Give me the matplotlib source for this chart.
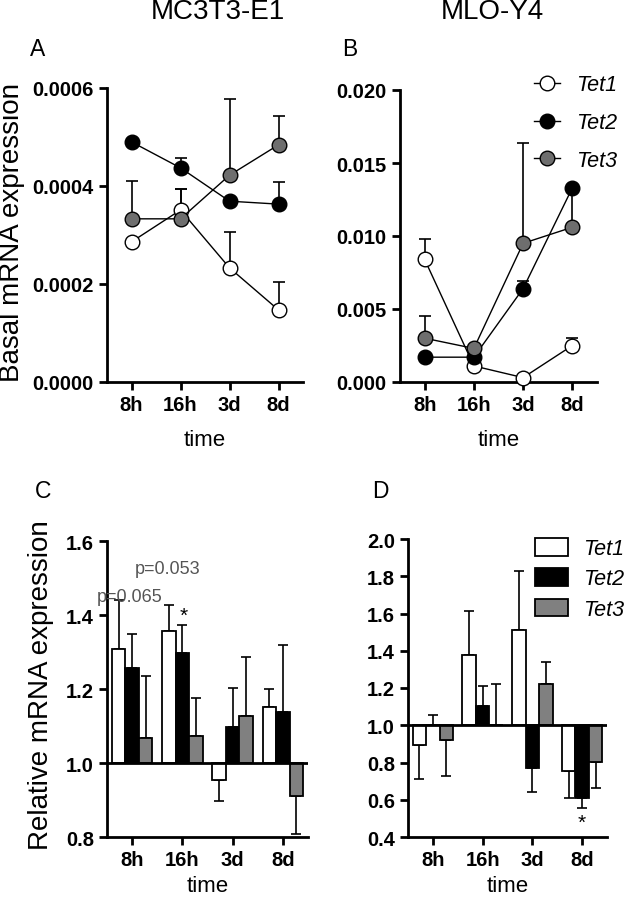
import matplotlib
matplotlib.use("Agg")
import matplotlib.pyplot as plt
import numpy as np
from matplotlib.lines import Line2D
from matplotlib.patches import Patch

plt.rcParams['font.family'] = ['Liberation Sans', 'DejaVu Sans']

times = ["8h", "16h", "3d", "8d"]
genes = ["Tet1", "Tet2", "Tet3"]

# Panel A (MC3T3-E1 basal)
a_tet1 = [0.000286, 0.000351, 0.000233, 0.000147]
a_tet1_err = [0.0, 0.000043, 0.000073, 0.000057]
a_tet2 = [0.000490, 0.000437, 0.000369, 0.000363]
a_tet2_err = [0.0, 0.000020, 0.0, 0.000045]
a_tet3 = [0.000333, 0.000333, 0.000422, 0.000484]
a_tet3_err = [0.000077, 0.000061, 0.000156, 0.000059]

# Panel B (MLO-Y4 basal)
b_tet1 = [0.0084, 0.0011, 0.0003, 0.0025]
b_tet1_err = [0.0014, 0.0, 0.0, 0.0005]
b_tet2 = [0.0017, 0.0017, 0.0064, 0.0133]
b_tet2_err = [0.0, 0.0, 0.0005, 0.0]
b_tet3 = [0.0030, 0.0023, 0.0095, 0.0106]
b_tet3_err = [0.0015, 0.0, 0.0069, 0.0027]

# Panel C (MC3T3-E1 relative)
c_tet1 = [1.308, 1.357, 0.954, 1.152]
c_tet1_err = [0.132, 0.070, 0.058, 0.048]
c_tet2 = [1.257, 1.297, 1.098, 1.137]
c_tet2_err = [0.092, 0.076, 0.104, 0.182]
c_tet3 = [1.067, 1.074, 1.128, 0.912]
c_tet3_err = [0.169, 0.103, 0.158, 0.104]

# Panel D (MLO-Y4 relative)
d_tet1 = [0.893, 1.378, 1.510, 0.755]
d_tet1_err = [0.179, 0.233, 0.319, 0.144]
d_tet2 = [1.0, 1.104, 0.769, 0.611]
d_tet2_err = [0.054, 0.107, 0.127, 0.057]
d_tet3 = [0.921, 1.0, 1.220, 0.805]
d_tet3_err = [0.193, 0.220, 0.117, 0.143]

W, H = 633, 904
fig = plt.figure(figsize=(W / 100, H / 100), dpi=100)

def add_ax(l, r, t, b):
    return fig.add_axes([l / W, 1 - b / H, (r - l) / W, (b - t) / H])

axA = add_ax(107, 303, 89, 383)
axB = add_ax(400, 597, 91, 383)
axC = add_ax(107, 308, 542, 838)
axD = add_ax(408, 607, 540, 838)

x = np.arange(len(times))
line_styles = [("white", "Tet1"), ("black", "Tet2"), ("#6e6e6e", "Tet3")]

def style_axis(ax, labelpad):
    for s in ["top", "right"]:
        ax.spines[s].set_visible(False)
    for s in ["left", "bottom"]:
        ax.spines[s].set_linewidth(2)
    ax.tick_params(axis="both", width=2, length=6, labelsize=14.5, direction="out")
    for lab in ax.get_xticklabels() + ax.get_yticklabels():
        lab.set_fontweight("bold")
    ax.set_xlim(-0.5, 3.5)
    ax.set_xticks(x)
    ax.set_xticklabels(times, fontweight="bold", fontsize=14.5)
    ax.set_xlabel("time", fontsize=16, labelpad=labelpad)

def line_panel(ax, series, errs):
    for (fc, lab), y, e in zip(line_styles, series, errs):
        ax.errorbar(x, y, yerr=[np.zeros(len(e)), e], fmt="none", ecolor="black",
                    elinewidth=1.2, capsize=4, capthick=1.2, zorder=2)
        ax.plot(x, y, color="black", lw=1, marker="o", markersize=10.5,
                markerfacecolor=fc, markeredgecolor="black", markeredgewidth=1,
                label=lab, zorder=3, clip_on=False)

line_panel(axA, [a_tet1, a_tet2, a_tet3], [a_tet1_err, a_tet2_err, a_tet3_err])
axA.set_ylim(0, 0.0006)
axA.set_yticks([0, 0.0002, 0.0004, 0.0006])
axA.set_yticklabels(["0.0000", "0.0002", "0.0004", "0.0006"])
style_axis(axA, 11)

line_panel(axB, [b_tet1, b_tet2, b_tet3], [b_tet1_err, b_tet2_err, b_tet3_err])
axB.set_ylim(0, 0.020)
axB.set_yticks([0, 0.005, 0.010, 0.015, 0.020])
axB.set_yticklabels(["0.000", "0.005", "0.010", "0.015", "0.020"])
style_axis(axB, 11)

handlesB = [Line2D([0], [0], color="black", lw=1, marker="o", markersize=10.5,
                   markerfacecolor=fc, markeredgecolor="black") for fc, _ in line_styles]
fig.legend(handlesB, genes, loc="upper left", bbox_to_anchor=(515 / W, 1 - 56 / H),
           frameon=False, prop={"style": "italic", "size": 15.5}, handlelength=1.2,
           labelspacing=0.78, handletextpad=0.75, borderpad=0.4)

bar_colors = ["white", "black", "#808080"]
bw = 0.27
offsets = [-bw, 0, bw]

def bar_panel(ax, series, errs):
    for fc, off, y, e in zip(bar_colors, offsets, series, errs):
        y = np.asarray(y)
        e = np.asarray(e)
        h = y - 1.0
        ax.bar(x + off, h, bw, bottom=1.0, color=fc, edgecolor="black", linewidth=1.3, zorder=2)
        up = np.where(h >= 0, e, 0)
        dn = np.where(h < 0, e, 0)
        ax.errorbar(x + off, y, yerr=[dn, up], fmt="none", ecolor="black",
                    elinewidth=1.2, capsize=3.5, capthick=1.2, zorder=1)
    ax.axhline(1.0, color="black", lw=2, zorder=3)

bar_panel(axC, [c_tet1, c_tet2, c_tet3], [c_tet1_err, c_tet2_err, c_tet3_err])
axC.set_ylim(0.8, 1.6)
axC.set_yticks([0.8, 1.0, 1.2, 1.4, 1.6])
axC.set_yticklabels(["0.8", "1.0", "1.2", "1.4", "1.6"])
style_axis(axC, 4)

bar_panel(axD, [d_tet1, d_tet2, d_tet3], [d_tet1_err, d_tet2_err, d_tet3_err])
axD.set_ylim(0.4, 2.0)
axD.set_yticks([0.4, 0.6, 0.8, 1.0, 1.2, 1.4, 1.6, 1.8, 2.0])
axD.set_yticklabels(["0.4", "0.6", "0.8", "1.0", "1.2", "1.4", "1.6", "1.8", "2.0"])
style_axis(axD, 4)

handlesD = [Patch(facecolor=c, edgecolor="black", linewidth=1.3) for c in bar_colors]
fig.legend(handlesD, genes, loc="upper left", bbox_to_anchor=(516 / W, 1 - 520 / H),
           frameon=False, prop={"style": "italic", "size": 15.5}, handlelength=1.5,
           handleheight=0.85, labelspacing=0.42, handletextpad=0.7, borderpad=0.4)

# Titles, panel letters, labels
fig.text(218 / W, 1 - 19 / H, "MC3T3-E1", fontsize=20, ha="center", va="baseline")
fig.text(492 / W, 1 - 19 / H, "MLO-Y4", fontsize=20, ha="center", va="baseline")
for lx, ly, t in [(30, 56, "A"), (342, 56, "B"), (35, 498, "C"), (372, 498, "D")]:
    fig.text(lx / W, 1 - ly / H, t, fontsize=16.5, ha="left", va="baseline")

fig.text(12 / W, 1 - 233 / H, "Basal mRNA expression", fontsize=20, rotation=90,
         ha="center", va="center")
fig.text(41 / W, 1 - 685 / H, "Relative mRNA expression", fontsize=20, rotation=90,
         ha="center", va="center")

# annotations
fig.text(97 / W, 1 - 597 / H, "p=0.065", fontsize=13, color="#555555", ha="left", va="center")
fig.text(135 / W, 1 - 569 / H, "p=0.053", fontsize=13, color="#555555", ha="left", va="center")
axC.text(1 + 0.02, 1.40, "*", fontsize=15, ha="center", va="center")
axD.text(3, 0.48, "*", fontsize=15, ha="center", va="center")

fig.savefig("out.png", dpi=100)
